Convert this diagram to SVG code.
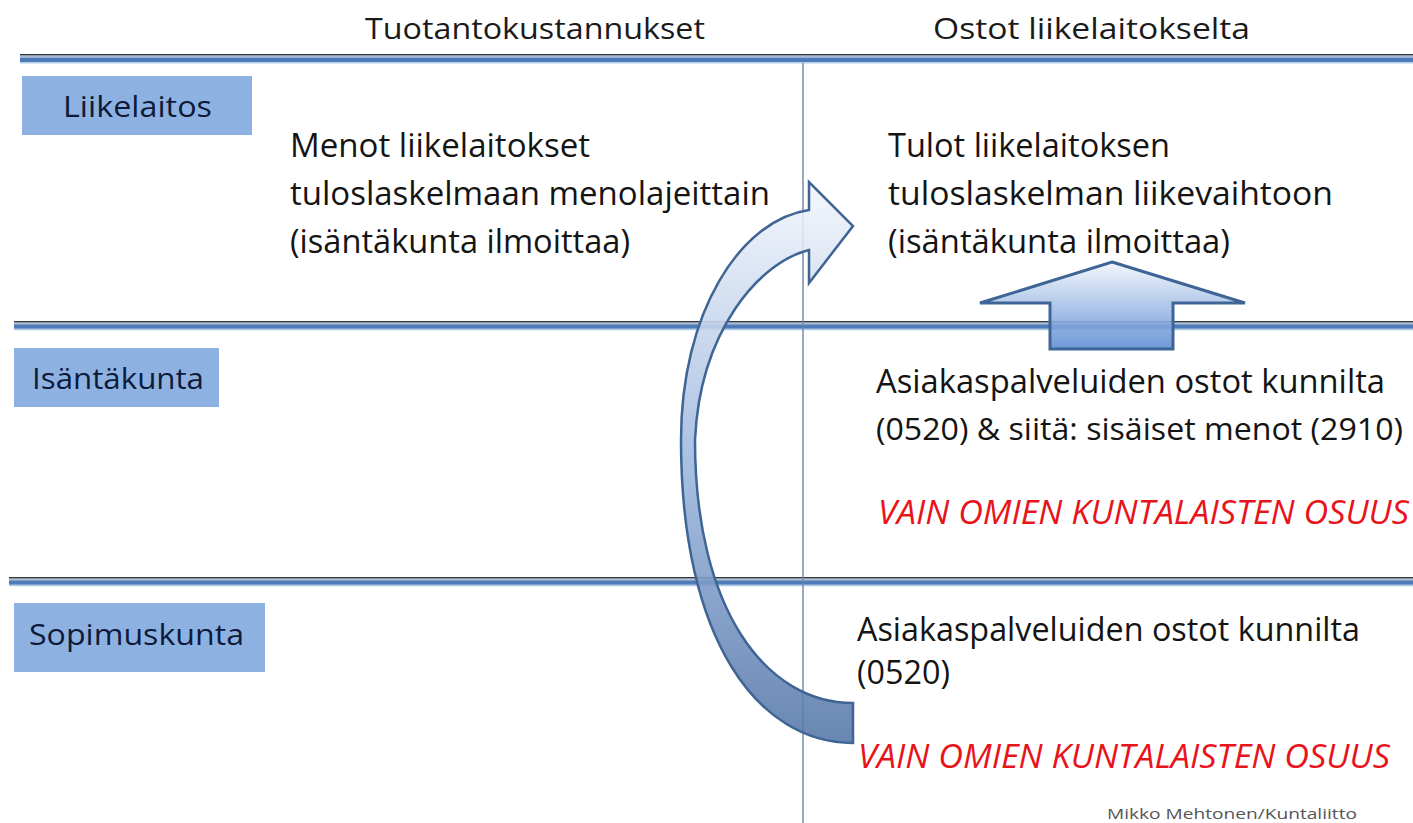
<svg xmlns="http://www.w3.org/2000/svg" width="1413" height="823" viewBox="0 0 1413 823">
<defs>
<style>
.hd{font-family:"Open Sans","Liberation Sans",sans-serif;font-size:30px;fill:#1a1a1a}
.lb{font-family:"Open Sans","Liberation Sans",sans-serif;font-size:30px;fill:#0d1a3a}
.tx{font-family:"Open Sans","Liberation Sans",sans-serif;font-size:33px;fill:#141414}
.rd{font-family:"Open Sans","Liberation Sans",sans-serif;font-size:33px;font-style:italic;fill:#e8141b}
.box{fill:#8db2e2}
.dk{fill:#2f3640}
.gy{fill:#a9bbd3}
.bl{fill:#4d7ab8}
.lt{fill:#b5cde9}
</style>
<linearGradient id="gCurve" x1="0" y1="180" x2="0" y2="745" gradientUnits="userSpaceOnUse">
<stop offset="0" stop-color="#f4f7fc"/>
<stop offset="0.5" stop-color="#9cb7de"/>
<stop offset="1" stop-color="#5475a8"/>
</linearGradient>
<linearGradient id="gUp" x1="0" y1="262" x2="0" y2="349" gradientUnits="userSpaceOnUse">
<stop offset="0" stop-color="#f2f6fc"/>
<stop offset="1" stop-color="#5a8ad2"/>
</linearGradient>
</defs>
<rect width="1413" height="823" fill="#ffffff"/>

<g id="separators">
<rect class="dk" x="20" y="54" width="1393" height="1.6"/>
<rect class="gy" x="20" y="55.6" width="1393" height="2"/>
<rect class="bl" x="20" y="57.6" width="1393" height="4.4"/>
<rect class="lt" x="20" y="62" width="1393" height="1.5"/>
<rect class="dk" x="14" y="321" width="1399" height="1.6"/>
<rect class="gy" x="14" y="322.6" width="1399" height="1.8"/>
<rect class="bl" x="14" y="324.4" width="1399" height="4.4"/>
<rect class="lt" x="14" y="328.8" width="1399" height="1.5"/>
<rect class="dk" x="9" y="577" width="1404" height="1.6"/>
<rect class="gy" x="9" y="578.6" width="1404" height="1.8"/>
<rect class="bl" x="9" y="580.4" width="1404" height="4.4"/>
<rect class="lt" x="9" y="584.8" width="1404" height="1.5"/>
<rect x="802.3" y="63" width="1.4" height="760" fill="#6f86a3"/>
</g>

<g id="header-left"><text class="hd" x="365" y="39" textLength="340" lengthAdjust="spacingAndGlyphs">Tuotantokustannukset</text></g>
<g id="header-right"><text class="hd" x="933" y="39" textLength="317" lengthAdjust="spacingAndGlyphs">Ostot liikelaitokselta</text></g>

<g id="label-liikelaitos"><rect class="box" x="22" y="76" width="230" height="59"/><text class="lb" x="63" y="117" textLength="149" lengthAdjust="spacingAndGlyphs">Liikelaitos</text></g>
<g id="label-isantakunta"><rect class="box" x="14" y="348" width="205" height="59"/><text class="lb" x="32" y="389" textLength="172" lengthAdjust="spacingAndGlyphs">Isäntäkunta</text></g>
<g id="label-sopimuskunta"><rect class="box" x="14" y="603" width="251" height="69"/><text class="lb" x="29" y="645" textLength="215" lengthAdjust="spacingAndGlyphs">Sopimuskunta</text></g>

<g id="text-menot">
<text class="tx" x="290" y="157" textLength="300" lengthAdjust="spacingAndGlyphs">Menot liikelaitokset</text>
<text class="tx" x="290" y="205" textLength="480" lengthAdjust="spacingAndGlyphs">tuloslaskelmaan menolajeittain</text>
<text class="tx" x="290" y="253" textLength="340" lengthAdjust="spacingAndGlyphs">(isäntäkunta ilmoittaa)</text>
</g>
<g id="text-tulot">
<text class="tx" x="888" y="157" textLength="282" lengthAdjust="spacingAndGlyphs">Tulot liikelaitoksen</text>
<text class="tx" x="888" y="205" textLength="445" lengthAdjust="spacingAndGlyphs">tuloslaskelman liikevaihtoon</text>
<text class="tx" x="888" y="253" textLength="342" lengthAdjust="spacingAndGlyphs">(isäntäkunta ilmoittaa)</text>
</g>
<g id="text-isanta">
<text class="tx" x="876" y="393" textLength="509" lengthAdjust="spacingAndGlyphs">Asiakaspalveluiden ostot kunnilta</text>
<text class="tx" x="876" y="440" style="font-size:31px" textLength="527" lengthAdjust="spacingAndGlyphs">(0520) &amp; siitä: sisäiset menot (2910)</text>
<text class="rd" x="878" y="524" textLength="531" lengthAdjust="spacingAndGlyphs">VAIN OMIEN KUNTALAISTEN OSUUS</text>
</g>
<g id="text-sopimus">
<text class="tx" x="857" y="641" textLength="503" lengthAdjust="spacingAndGlyphs">Asiakaspalveluiden ostot kunnilta</text>
<text class="tx" x="857" y="684" textLength="93" lengthAdjust="spacingAndGlyphs">(0520)</text>
<text class="rd" x="858" y="768" textLength="532" lengthAdjust="spacingAndGlyphs">VAIN OMIEN KUNTALAISTEN OSUUS</text>
</g>
<g id="footer"><text x="1107" y="819" font-family="'Open Sans','Liberation Sans',sans-serif" font-size="14" fill="#555" textLength="250" lengthAdjust="spacingAndGlyphs">Mikko Mehtonen/Kuntaliitto</text></g>

<g id="connectors">
<path d="M853,743 C758,743 681,640 681,440 C681,313 740,220 809,210 L809,182 L853,226 L809,283 L809,250 C760,262 700,330 695,440 C695,610 766,703 853,703 Z" fill="url(#gCurve)" fill-opacity="0.88" stroke="#3f6594" stroke-width="2.5" stroke-linejoin="miter"/>
<path d="M1112,262 L1245,303 L1173,303 L1173,349 L1050,349 L1050,303 L980,303 Z" fill="url(#gUp)" fill-opacity="0.88" stroke="#3e6595" stroke-width="3"/>
</g>
</svg>
